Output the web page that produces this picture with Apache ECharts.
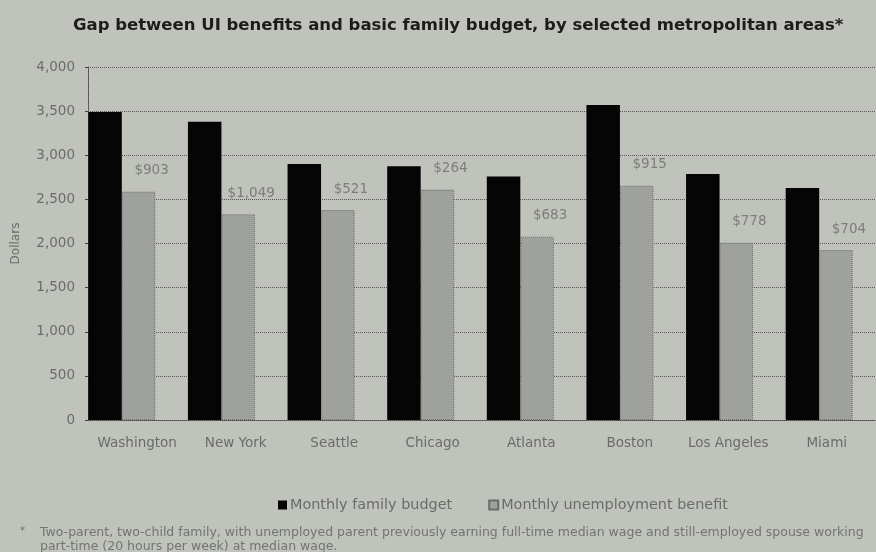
<!DOCTYPE html>
<html>
<head>
<meta charset="utf-8">
<script src="https://cdn.jsdelivr.net/npm/echarts@6/dist/echarts.min.js"></script>
<style>
html,body{margin:0;padding:0;background:#c0c2bc;}
#c{width:876px;height:552px;}
</style>
</head>
<body>
<div id="c"></div>
<script>
const categories = ['Washington','New York','Seattle','Chicago','Atlanta','Boston','Los Angeles','Miami'];
const familyBudget = [3490, 3380, 2900, 2875, 2760, 3570, 2787, 2630];
const uiBenefit = [2587, 2331, 2379, 2611, 2077, 2655, 2009, 1926];
const gapLabels = ['$903','$1,049','$521','$264','$683','$915','$778','$704'];
const yTicks = [0, 500, 1000, 1500, 2000, 2500, 3000, 3500, 4000];
const titleText = 'Gap between UI benefits and basic family budget, by selected metropolitan areas*';
const footLine1 = 'Two-parent, two-child family, with unemployed parent previously earning full-time median wage and still-employed spouse working';
const footLine2 = 'part-time (20 hours per week) at median wage.';

const chart = echarts.init(document.getElementById('c'));
const fmt = v => v.toLocaleString('en-US');
const F = 'DejaVu Sans';
const yMin = yTicks[0], yMax = yTicks[yTicks.length - 1];
chart.setOption({
  backgroundColor: '#c0c2bc',
  animation: false,
  textStyle: {fontFamily: F},
  title: {
    text: titleText,
    left: 68, top: 12,
    textStyle: {fontFamily: F, fontWeight: 'bold', fontSize: 16.5, color: '#1c1c1c'}
  },
  legend: {
    data: ['Monthly family budget', 'Monthly unemployment benefit'],
    left: 273, top: 493,
    itemWidth: 9, itemHeight: 9, itemGap: 36,
    icon: 'rect',
    textStyle: {fontFamily: F, fontSize: 14.4, color: '#6a6c68', padding: [0,0,0,-2]}
  },
  grid: [
    {left: 88, right: 0, top: 67, bottom: 132},
    {left: 72, right: 7, top: 67, bottom: 132}
  ],
  xAxis: [
    {
      gridIndex: 0, type: 'category', data: categories,
      axisLine: {lineStyle: {color: '#444', type: 'dotted'}},
      axisTick: {show: false},
      axisLabel: {interval: 0, color: '#6a6c68', fontFamily: F, fontSize: 13.5, margin: 16}
    },
    {
      gridIndex: 1, type: 'category', data: categories,
      axisLine: {show: false}, axisTick: {show: false}, axisLabel: {show: false}
    }
  ],
  yAxis: [
    {
      gridIndex: 0, type: 'value',
      min: yMin, max: yMax, interval: 500,
      name: 'Dollars', nameLocation: 'middle', nameGap: 66,
      nameTextStyle: {color: '#6a6c68', fontFamily: F, fontSize: 12},
      axisLine: {show: true, lineStyle: {color: '#444', type: 'dotted'}},
      axisTick: {show: true, length: 3, lineStyle: {color: '#444'}},
      axisLabel: {color: '#6a6c68', fontFamily: F, fontSize: 13.5, margin: 13, formatter: fmt},
      splitLine: {lineStyle: {color: '#555', type: 'dotted'}}
    },
    {
      gridIndex: 1, type: 'value', min: yMin, max: yMax, interval: 500,
      axisLine: {show: false}, axisTick: {show: false}, axisLabel: {show: false}, splitLine: {show: false}
    }
  ],
  series: [
    {
      name: 'Monthly family budget', type: 'bar', data: familyBudget,
      xAxisIndex: 1, yAxisIndex: 1,
      barWidth: 33.5, barGap: '0%',
      itemStyle: {color: '#050505'}
    },
    {
      name: 'Monthly unemployment benefit', type: 'bar', data: uiBenefit,
      xAxisIndex: 1, yAxisIndex: 1,
      barWidth: 33.5, barGap: '0%',
      itemStyle: {color: '#9fa19c', borderColor: '#6a6c68', borderWidth: 1, borderType: 'dotted'},
      label: {
        show: true, position: 'top', distance: 14, offset: [13, 0],
        color: '#7c7e79', fontFamily: F, fontSize: 13.5,
        formatter: p => gapLabels[p.dataIndex]
      }
    }
  ],
  graphic: [
    {type: 'text', left: 20, top: 526, style: {text: '*', fill: '#6a6c68', font: '10px DejaVu Sans'}},
    {type: 'text', left: 40, top: 526, style: {text: footLine1, fill: '#727470', font: '12.5px DejaVu Sans'}},
    {type: 'text', left: 40, top: 540, style: {text: footLine2, fill: '#727470', font: '12.5px DejaVu Sans'}}
  ]
});
</script>
</body>
</html>
